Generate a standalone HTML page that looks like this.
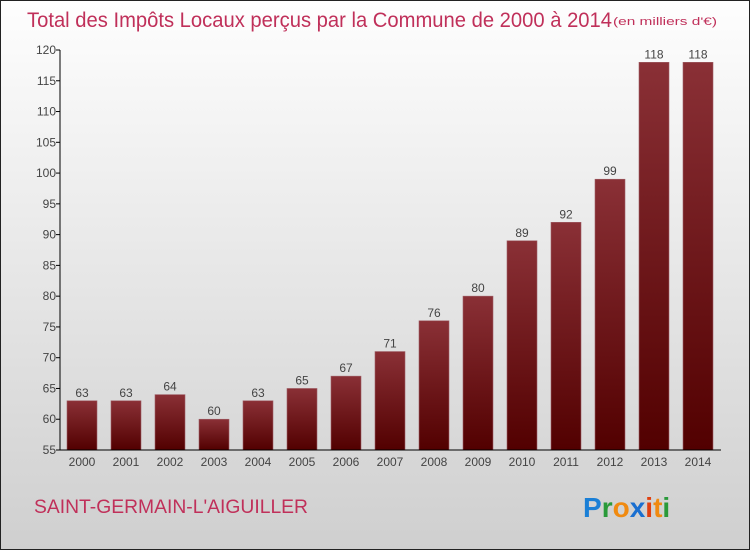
<!DOCTYPE html>
<html><head><meta charset="utf-8"><style>
body{margin:0}
#c{width:750px;height:550px;position:relative;font-family:"Liberation Sans",sans-serif}
</style></head><body>
<div id="c">
<svg id="s" width="750" height="550" xmlns="http://www.w3.org/2000/svg" font-family="Liberation Sans, sans-serif">
<defs>
<linearGradient id="bg" x1="0" y1="0" x2="0" y2="1"><stop offset="0" stop-color="#fefefe"/><stop offset="1" stop-color="#cfcfcf"/></linearGradient>
<linearGradient id="bar" x1="0" y1="0" x2="0" y2="1"><stop offset="0" stop-color="#8a3036"/><stop offset="1" stop-color="#520000"/></linearGradient>
</defs>
<rect x="0.5" y="0.5" width="749" height="549" fill="url(#bg)" stroke="#222"/>
<text x="27" y="27" font-size="21" fill="#c0305a" textLength="585" lengthAdjust="spacingAndGlyphs">Total des Impôts Locaux perçus par la Commune de 2000 à 2014</text>
<text x="613" y="25" font-size="11" fill="#c0305a" textLength="104" lengthAdjust="spacingAndGlyphs">(en milliers d'€)</text>
<g id="plot"></g>
<text x="34" y="513" font-size="19" fill="#c0305a" textLength="274" lengthAdjust="spacingAndGlyphs">SAINT-GERMAIN-L'AIGUILLER</text>
<g font-size="28" font-weight="bold">
<text x="583" y="517"><tspan fill="#1a7fd6">P</tspan><tspan fill="#2a9a3a">r</tspan><tspan fill="#f08a10">o</tspan><tspan fill="#1a6fd0">x</tspan><tspan fill="#e04010">i</tspan><tspan fill="#f08a10">t</tspan><tspan fill="#2a9a3a">i</tspan></text>
</g>
</svg>
</div>
<script>
const years=["2000","2001","2002","2003","2004","2005","2006","2007","2008","2009","2010","2011","2012","2013","2014"];
const values=[63,63,64,60,63,65,67,71,76,80,89,92,99,118,118];
const yTicks=[55,60,65,70,75,80,85,90,95,100,105,110,115,120];
const NS="http://www.w3.org/2000/svg";
const plotG=document.getElementById('plot');
const yMin=55,yMax=120,pTop=50,pBot=450,x0=60,x1=721;
function yS(v){return pBot-(v-yMin)/(yMax-yMin)*(pBot-pTop);}
function xS(i){return 82+i*44;}
function mk(t,a){const e=document.createElementNS(NS,t);for(const k in a)e.setAttribute(k,a[k]);plotG.appendChild(e);return e;}
yTicks.forEach(v=>{
 const l=mk('line',{x1:x0-4,x2:x0,y1:yS(v),y2:yS(v),stroke:'#000'});
 
 
 const t=mk('text',{x:x0-4,y:yS(v)+4,'text-anchor':'end','font-size':12,fill:'#444'});
 t.textContent=v;
 
 
});
values.forEach((v,i)=>{
 const r=mk('rect',{x:xS(i)-15,y:yS(v),width:30,height:pBot-yS(v),fill:'url(#bar)',stroke:'#a06068','stroke-width':0.6});
 
 
 const t=mk('text',{x:xS(i),y:yS(v)-4,'text-anchor':'middle','font-size':12,fill:'#444'});
 t.textContent=v;
 
 
 const xl=mk('text',{x:xS(i),y:pBot+16,'text-anchor':'middle','font-size':12,fill:'#444'});
 xl.textContent=years[i];
 
 
});
const ya=mk('line',{x1:x0,x2:x0,y1:pTop,y2:pBot,stroke:'#000'});


const xa=mk('line',{x1:x0,x2:x1,y1:pBot,y2:pBot,stroke:'#000'});


</script>
</body></html>
